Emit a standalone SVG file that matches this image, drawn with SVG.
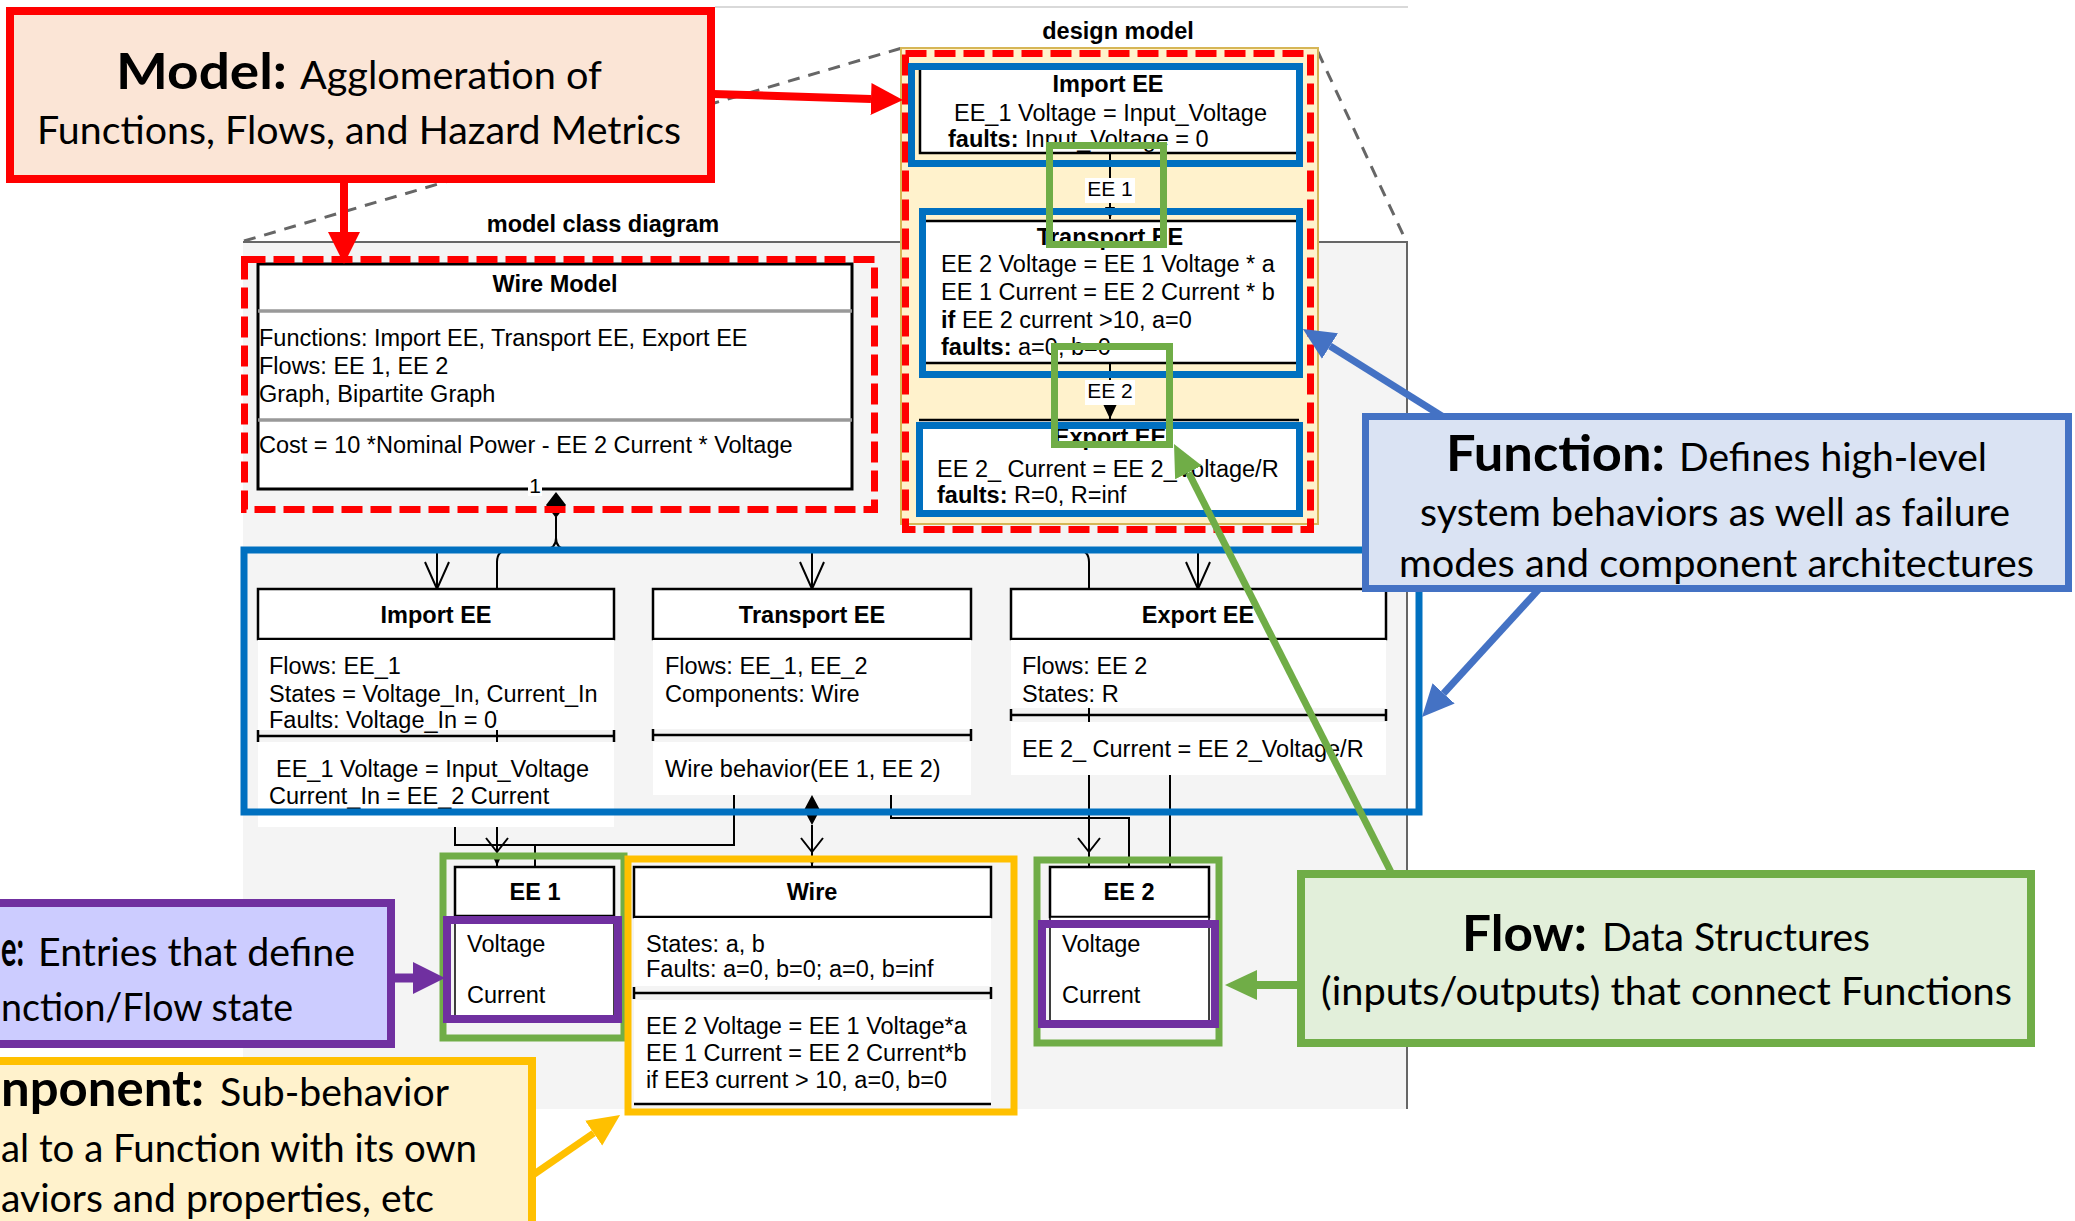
<svg xmlns="http://www.w3.org/2000/svg" width="2075" height="1221" viewBox="0 0 2075 1221">
<style>
.t{font-family:"Liberation Sans",Arial,Helvetica,sans-serif;font-size:23.5px;fill:#000}
.s{font-size:21px}
.b{font-weight:bold}
.m{text-anchor:middle}
.cl{font-family:Lato,"Open Sans",sans-serif;fill:#000;font-size:38px}
.cb{font-weight:bold;font-size:50px}
.box{fill:#fff;stroke:#000;stroke-width:2.5}
.body{fill:#fff}
.edge{fill:none;stroke:#000;stroke-width:2}
.div{stroke:#000;stroke-width:2.5;fill:none}
.fr{fill:none}
.red{stroke:#ff0000;stroke-width:7;stroke-dasharray:21 8}
.blue{stroke:#0070c0;stroke-width:7}
.green{stroke:#70ad47;stroke-width:7}
.purple{stroke:#7030a0;stroke-width:8}
.yellow{stroke:#ffc000;stroke-width:7}
.gdash{stroke:#666;stroke-width:3;stroke-dasharray:12 9;fill:none}
</style>
<defs>
  <marker id="openV" viewBox="-30 -14 32 28" refX="0" refY="0" markerWidth="32" markerHeight="28" markerUnits="userSpaceOnUse" orient="auto">
    <path d="M-27,-12 L0,0 L-27,12" fill="none" stroke="#000" stroke-width="2"/>
  </marker>
  <marker id="openV2" viewBox="-32 -14 34 28" refX="0" refY="0" markerWidth="34" markerHeight="28" markerUnits="userSpaceOnUse" orient="auto">
    <path d="M-28,-11 L-14,0 L-28,11" fill="none" stroke="#000" stroke-width="2"/>
    <path d="M0,0 L-8,-3.5 L-8,3.5 z" fill="#000"/>
  </marker>
  <marker id="tipS" viewBox="-12 -6 13 12" refX="0" refY="0" markerWidth="13" markerHeight="12" markerUnits="userSpaceOnUse" orient="auto">
    <path d="M0,0 L-12,-5 L-12,5 z" fill="#000"/>
  </marker>
  <marker id="tipM" viewBox="-15 -8 16 16" refX="0" refY="0" markerWidth="16" markerHeight="16" markerUnits="userSpaceOnUse" orient="auto">
    <path d="M0,0 L-15,-7 L-15,7 z" fill="#000"/>
  </marker>
  <marker id="hRed" viewBox="0 -16 32 32" refX="0" refY="0" markerWidth="32" markerHeight="32" markerUnits="userSpaceOnUse" orient="auto"><path d="M0,-16 L32,0 L0,16 z" fill="#ff0000"/></marker>
  <marker id="hBlue" viewBox="0 -16 32 32" refX="0" refY="0" markerWidth="32" markerHeight="32" markerUnits="userSpaceOnUse" orient="auto"><path d="M0,-15 L32,0 L0,15 z" fill="#4472c4"/></marker>
  <marker id="hGreen" viewBox="0 -16 32 32" refX="0" refY="0" markerWidth="32" markerHeight="32" markerUnits="userSpaceOnUse" orient="auto"><path d="M0,-15 L32,0 L0,15 z" fill="#70ad47"/></marker>
  <marker id="hPurple" viewBox="0 -16 32 32" refX="0" refY="0" markerWidth="32" markerHeight="32" markerUnits="userSpaceOnUse" orient="auto"><path d="M0,-16 L32,0 L0,16 z" fill="#7030a0"/></marker>
  <marker id="hYellow" viewBox="0 -16 32 32" refX="0" refY="0" markerWidth="32" markerHeight="32" markerUnits="userSpaceOnUse" orient="auto"><path d="M0,-15 L32,0 L0,15 z" fill="#ffc000"/></marker>
</defs>

<rect x="0" y="0" width="2075" height="1221" fill="#fff"/>

<!-- page frame and class diagram panel -->
<g id="panel">
  <line x1="715" y1="7" x2="1408" y2="7" stroke="#d9d9d9" stroke-width="2"/>
  <rect x="243" y="242" width="1164" height="867" fill="#f4f4f4"/>
  <path d="M243 242 H1407 V1109" fill="none" stroke="#666" stroke-width="2"/>
  <text class="t b m" x="603" y="232">model class diagram</text>
  <path class="gdash" d="M244 241 L902 48"/>
  <path class="gdash" d="M1318 52 L1406 241"/>
</g>

<!-- design model container -->
<g id="design-model">
  <rect x="901" y="48" width="417" height="476" fill="#fff2cc" stroke="#d6b656" stroke-width="2"/>
  <text class="t b m" x="1118" y="39">design model</text>
  <g id="dm-links">
    <line class="edge" x1="1110" y1="153" x2="1110" y2="219" marker-end="url(#tipS)"/>
    <rect x="1085" y="178" width="50" height="25" fill="#fff"/>
    <text class="t s m" x="1110" y="196">EE 1</text>
    <line class="edge" x1="1110" y1="363" x2="1110" y2="419" marker-end="url(#tipM)"/>
    <rect x="1085" y="380" width="50" height="25" fill="#fff"/>
    <text class="t s m" x="1110" y="398">EE 2</text>
  </g>
  <g id="dm-import">
    <rect x="920" y="69" width="376" height="84" fill="#fff"/>
    <path class="div" d="M920 69 V153 H1296"/>
    <text class="t b m" x="1108" y="92">Import EE</text>
    <text class="t" x="954" y="121">EE_1 Voltage = Input_Voltage</text>
    <text class="t" x="948" y="147"><tspan class="b">faults:</tspan> Input_Voltage = 0</text>
  </g>
  <g id="dm-transport">
    <rect x="926" y="221" width="370" height="142" fill="#fff"/>
    <path class="div" d="M926 221 H1296 M926 363 H1296"/>
    <text class="t b m" x="1110" y="245">Transport EE</text>
    <text class="t" x="941" y="272">EE 2 Voltage = EE 1 Voltage * a</text>
    <text class="t" x="941" y="300">EE 1 Current = EE 2 Current * b</text>
    <text class="t" x="941" y="328"><tspan class="b">if</tspan> EE 2 current &gt;10, a=0</text>
    <text class="t" x="941" y="355"><tspan class="b">faults:</tspan> a=0, b=0</text>
  </g>
  <g id="dm-export">
    <rect x="919" y="420" width="377" height="95" fill="#fff"/>
    <path class="div" d="M919 420 H1299"/>
    <text class="t b m" x="1110" y="445">Export EE</text>
    <text class="t" x="937" y="477">EE 2_ Current = EE 2_Voltage/R</text>
    <text class="t" x="937" y="503"><tspan class="b">faults:</tspan> R=0, R=inf</text>
  </g>
</g>

<!-- class diagram connectors -->
<g id="connectors">
  <line class="edge" x1="556" y1="517" x2="556" y2="540"/>
  <path class="edge" d="M556 538 Q556 549 545 549 H437 M556 538 Q556 549 567 549 H1198"/>
  <line class="edge" x1="437" y1="550" x2="437" y2="589" marker-end="url(#openV)"/>
  <line class="edge" x1="812" y1="550" x2="812" y2="589" marker-end="url(#openV)"/>
  <line class="edge" x1="1198" y1="550" x2="1198" y2="589" marker-end="url(#openV)"/>
  <path class="edge" d="M509 550 Q497 550 497 562 V866" marker-end="url(#openV2)"/>
  <path class="edge" d="M1077 550 Q1089 550 1089 562 V866" marker-end="url(#openV2)"/>
  <path class="edge" d="M455 827 V845 H734 V795 M535 845 V867"/>
  <line class="edge" x1="812" y1="825" x2="812" y2="866" marker-end="url(#openV2)"/>
  <path class="edge" d="M891 795 V818 H1129 V867"/>
  <line class="edge" x1="1170" y1="775" x2="1170" y2="867"/>
  <polygon points="812,795 820,810 812,825 804,810" fill="#000"/>
</g>

<!-- model class -->
<g id="wire-model">
  <rect x="258" y="264" width="594" height="225" fill="#fff" stroke="#000" stroke-width="3"/>
  <path d="M258 311 H852 M258 420 H852" stroke="#999" stroke-width="3.5"/>
  <text class="t b m" x="555" y="292">Wire Model</text>
  <text class="t" x="259" y="346">Functions: Import EE, Transport EE, Export EE</text>
  <text class="t" x="259" y="374">Flows: EE 1, EE 2</text>
  <text class="t" x="259" y="402">Graph, Bipartite Graph</text>
  <text class="t" x="259" y="453">Cost = 10 *Nominal Power - EE 2 Current * Voltage</text>
  <rect x="528" y="474" width="14" height="22" fill="#fff"/>
  <text class="t s m" x="535" y="493">1</text>
  <polygon points="556,492 566,505 556,518 546,505" fill="#000"/>
</g>

<!-- function classes -->
<g id="import-ee">
  <rect class="box" x="258" y="589" width="356" height="50"/>
  <rect class="body" x="258" y="640" width="356" height="90"/>
  <rect class="body" x="258" y="742" width="356" height="85"/>
  <path class="div" d="M258 736 H614 M258 730 V742 M614 730 V742"/>
  <text class="t b m" x="436" y="623">Import EE</text>
  <text class="t" x="269" y="674">Flows: EE_1</text>
  <text class="t" x="269" y="702">States = Voltage_In, Current_In</text>
  <text class="t" x="269" y="728">Faults: Voltage_In = 0</text>
  <text class="t" x="276" y="777">EE_1 Voltage = Input_Voltage</text>
  <text class="t" x="269" y="804">Current_In = EE_2 Current</text>
</g>
<g id="transport-ee">
  <rect class="box" x="653" y="589" width="318" height="50"/>
  <rect class="body" x="653" y="640" width="318" height="89"/>
  <rect class="body" x="653" y="742" width="318" height="53"/>
  <path class="div" d="M653 735 H971 M653 729 V741 M971 729 V741"/>
  <text class="t b m" x="812" y="623">Transport EE</text>
  <text class="t" x="665" y="674">Flows: EE_1, EE_2</text>
  <text class="t" x="665" y="702">Components: Wire</text>
  <text class="t" x="665" y="777">Wire behavior(EE 1, EE 2)</text>
</g>
<g id="export-ee">
  <rect class="box" x="1011" y="589" width="375" height="50"/>
  <rect class="body" x="1011" y="640" width="375" height="68"/>
  <rect class="body" x="1011" y="722" width="375" height="53"/>
  <path class="div" d="M1011 715 H1386 M1011 709 V721 M1386 709 V721"/>
  <text class="t b m" x="1198" y="623">Export EE</text>
  <text class="t" x="1022" y="674">Flows: EE 2</text>
  <text class="t" x="1022" y="702">States: R</text>
  <text class="t" x="1022" y="757">EE 2_ Current = EE 2_Voltage/R</text>
</g>

<!-- flow and component classes -->
<g id="ee1">
  <rect class="box" x="455" y="867" width="159" height="49"/>
  <rect x="455" y="916" width="159" height="102" fill="#fff" stroke="#000" stroke-width="1.5"/>
  <text class="t b m" x="535" y="900">EE 1</text>
  <text class="t" x="467" y="952">Voltage</text>
  <text class="t" x="467" y="1003">Current</text>
</g>
<g id="wire">
  <rect class="box" x="634" y="867" width="357" height="50"/>
  <rect class="body" x="634" y="918" width="357" height="68"/>
  <rect class="body" x="634" y="1000" width="357" height="104"/>
  <path class="div" d="M634 993 H991 M634 987 V999 M991 987 V999 M634 1104 H991"/>
  <text class="t b m" x="812" y="900">Wire</text>
  <text class="t" x="646" y="952">States: a, b</text>
  <text class="t" x="646" y="977">Faults: a=0, b=0; a=0, b=inf</text>
  <text class="t" x="646" y="1034">EE 2 Voltage = EE 1 Voltage*a</text>
  <text class="t" x="646" y="1061">EE 1 Current = EE 2 Current*b</text>
  <text class="t" x="646" y="1088">if EE3 current &gt; 10, a=0, b=0</text>
</g>
<g id="ee2">
  <rect class="box" x="1050" y="867" width="159" height="50"/>
  <rect x="1050" y="917" width="159" height="104" fill="#fff" stroke="#000" stroke-width="1.5"/>
  <text class="t b m" x="1129" y="900">EE 2</text>
  <text class="t" x="1062" y="952">Voltage</text>
  <text class="t" x="1062" y="1003">Current</text>
</g>

<!-- highlight frames -->
<g id="frames">
  <rect class="fr red" x="244.5" y="259.5" width="630" height="250"/>
  <rect class="fr red" x="905.5" y="53.5" width="405" height="476"/>
  <rect class="fr blue" x="911.5" y="66.5" width="388" height="97"/>
  <rect class="fr blue" x="922.5" y="211.5" width="377" height="163"/>
  <rect class="fr blue" x="919.5" y="425.5" width="380" height="88"/>
  <rect class="fr green" x="1049.5" y="145.5" width="114" height="99"/>
  <rect class="fr green" x="1054.5" y="346.5" width="115" height="98"/>
  <rect class="fr blue" x="244" y="550" width="1175" height="262"/>
  <rect class="fr green" x="443" y="856" width="181" height="182" stroke-width="8"/>
  <rect class="fr purple" x="447" y="920" width="171" height="99"/>
  <rect class="fr yellow" x="628" y="859" width="386" height="253"/>
  <rect class="fr green" x="1037" y="860" width="182" height="183" stroke-width="8"/>
  <rect class="fr purple" x="1042" y="924" width="173" height="100"/>
</g>

<!-- callout arrows -->
<g id="callout-arrows">
  <line x1="713" y1="94" x2="871" y2="99" stroke="#ff0000" stroke-width="8" marker-end="url(#hRed)"/>
  <line x1="344" y1="181" x2="344" y2="232" stroke="#ff0000" stroke-width="8" marker-end="url(#hRed)"/>
  <line x1="1445" y1="418" x2="1330" y2="346" stroke="#4472c4" stroke-width="7" marker-end="url(#hBlue)"/>
  <line x1="1540" y1="588" x2="1443.6" y2="693.4" stroke="#4472c4" stroke-width="7" marker-end="url(#hBlue)"/>
  <line x1="1392" y1="874" x2="1188.5" y2="472.5" stroke="#70ad47" stroke-width="7" marker-end="url(#hGreen)"/>
  <line x1="1298" y1="985" x2="1257" y2="985" stroke="#70ad47" stroke-width="8" marker-end="url(#hGreen)"/>
  <line x1="390" y1="978" x2="413" y2="978" stroke="#7030a0" stroke-width="9" marker-end="url(#hPurple)"/>
  <line x1="530" y1="1177" x2="593.7" y2="1133.2" stroke="#ffc000" stroke-width="7" marker-end="url(#hYellow)"/>
</g>

<!-- callouts -->
<g id="model-note">
  <rect x="10" y="11" width="701" height="168" fill="#fbe5d6" stroke="#ff0000" stroke-width="8"/>
  <text class="cl cb" x="116" y="89" textLength="171" lengthAdjust="spacingAndGlyphs">Model:</text>
  <text class="cl" x="300" y="89" textLength="302" lengthAdjust="spacingAndGlyphs">Agglomeration of</text>
  <text class="cl" x="37" y="144" textLength="644" lengthAdjust="spacingAndGlyphs">Functions, Flows, and Hazard Metrics</text>
</g>
<g id="function-note">
  <rect x="1365.5" y="416.5" width="703" height="172" fill="#dae3f3" stroke="#4472c4" stroke-width="7"/>
  <text class="cl cb" x="1446" y="471" textLength="219" lengthAdjust="spacingAndGlyphs">Function:</text>
  <text class="cl" x="1679" y="471" textLength="308" lengthAdjust="spacingAndGlyphs">Defines high-level</text>
  <text class="cl" x="1420" y="526" textLength="590" lengthAdjust="spacingAndGlyphs">system behaviors as well as failure</text>
  <text class="cl" x="1399" y="577" textLength="635" lengthAdjust="spacingAndGlyphs">modes and component architectures</text>
</g>
<g id="flow-note">
  <rect x="1301" y="874" width="730" height="169" fill="#e2efda" stroke="#70ad47" stroke-width="8"/>
  <text class="cl cb" x="1462" y="951" textLength="125" lengthAdjust="spacingAndGlyphs">Flow:</text>
  <text class="cl" x="1602" y="951" textLength="268" lengthAdjust="spacingAndGlyphs">Data Structures</text>
  <text class="cl" x="1321" y="1005" textLength="691" lengthAdjust="spacingAndGlyphs">(inputs/outputs) that connect Functions</text>
</g>
<g id="state-note">
  <rect x="-10" y="903" width="401" height="141" fill="#ccccff" stroke="#7030a0" stroke-width="8"/>
  <text class="cl cb" x="1" y="966" textLength="23" lengthAdjust="spacingAndGlyphs">e:</text>
  <text class="cl" x="38" y="966" textLength="317" lengthAdjust="spacingAndGlyphs">Entries that define</text>
  <text class="cl" x="1" y="1021" textLength="292" lengthAdjust="spacingAndGlyphs">nction/Flow state</text>
</g>
<g id="component-note">
  <rect x="-10" y="1061" width="542" height="180" fill="#fff2cc" stroke="#ffc000" stroke-width="8"/>
  <text class="cl cb" x="1" y="1106" textLength="203" lengthAdjust="spacingAndGlyphs">nponent:</text>
  <text class="cl" x="220" y="1106" textLength="229" lengthAdjust="spacingAndGlyphs">Sub-behavior</text>
  <text class="cl" x="1" y="1162" textLength="476" lengthAdjust="spacingAndGlyphs">al to a Function with its own</text>
  <text class="cl" x="1" y="1212" textLength="433" lengthAdjust="spacingAndGlyphs">aviors and properties, etc</text>
</g>
</svg>
